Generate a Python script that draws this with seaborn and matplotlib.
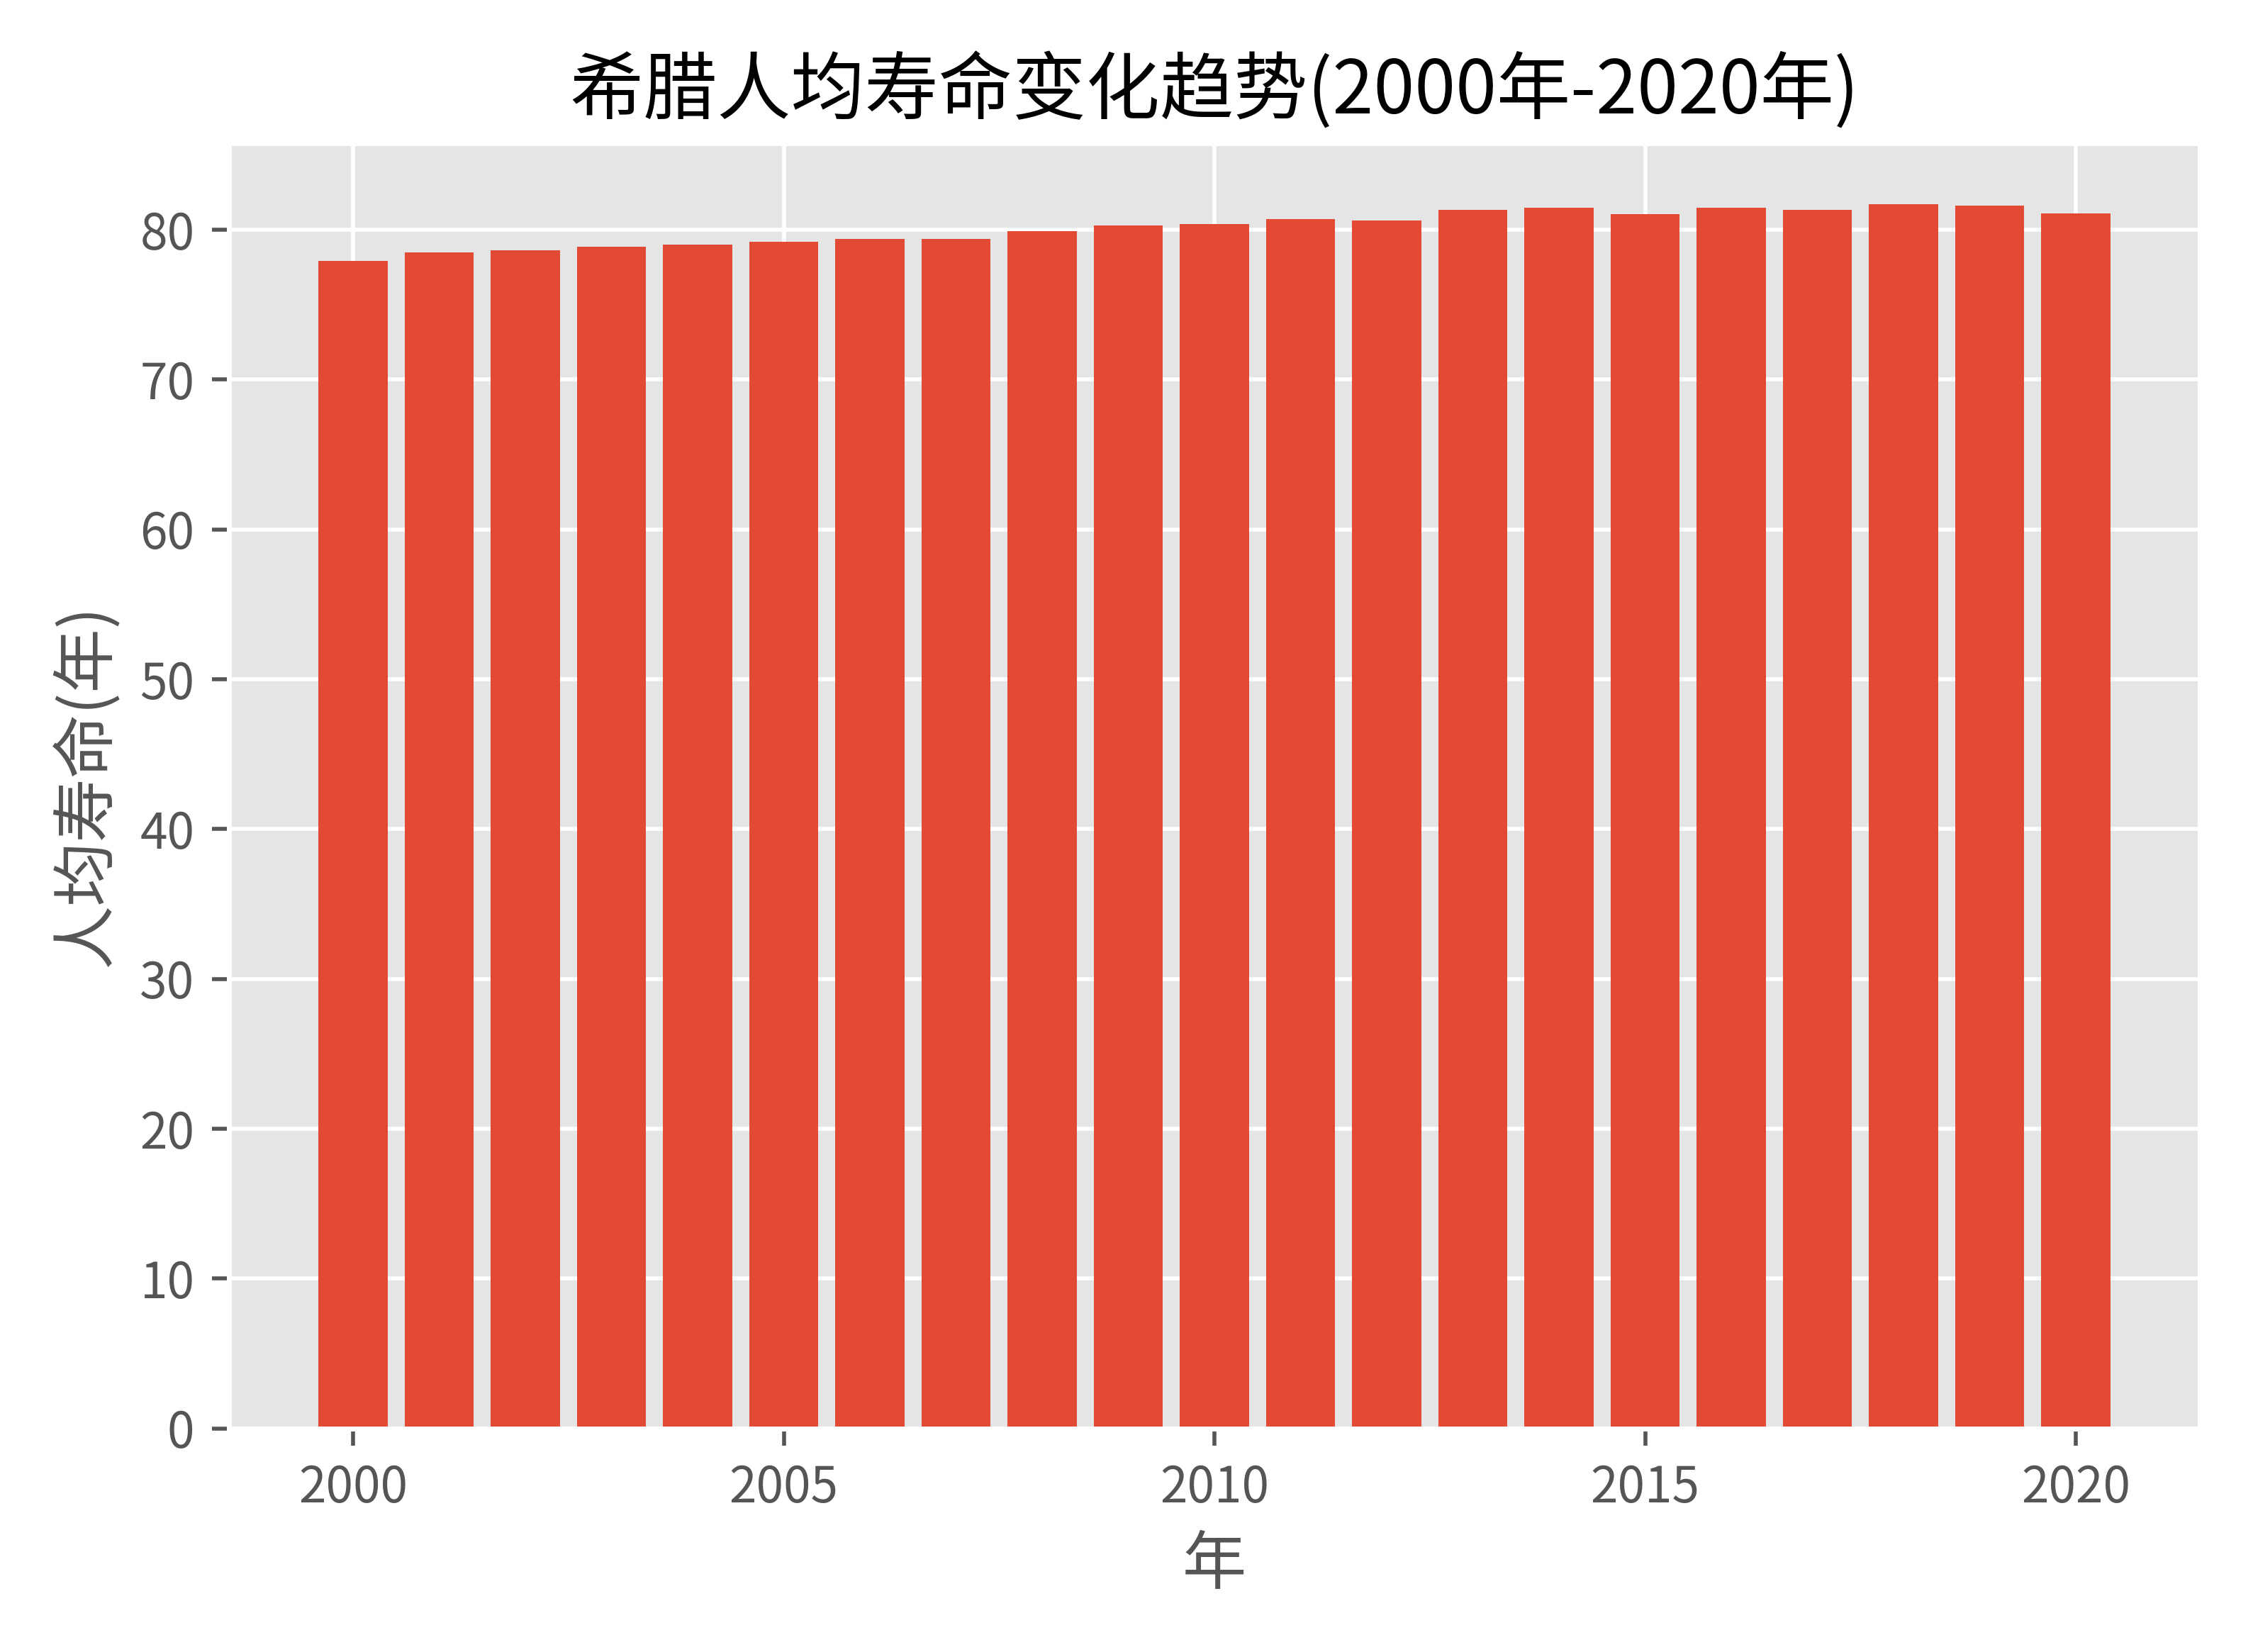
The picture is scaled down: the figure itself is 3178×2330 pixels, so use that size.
import numpy as np
import pandas as pd
import matplotlib
matplotlib.use('Agg')
import matplotlib.pyplot as plt
import seaborn as sns

years = list(range(2000, 2021))
life_expectancy = [77.9, 78.5, 78.65, 78.85, 79.0, 79.2, 79.4, 79.4, 79.9, 80.3, 80.4,
                   80.7, 80.6, 81.35, 81.45, 81.05, 81.45, 81.35, 81.7, 81.6, 81.1]

plt.style.use('ggplot')
plt.rcParams['font.family'] = ['Noto Sans CJK SC', 'DejaVu Sans']
plt.rcParams['axes.unicode_minus'] = False

df = pd.DataFrame({'年': years, '寿命': life_expectancy})

fig, ax = plt.subplots(figsize=(6.356, 4.66), dpi=500)
sns.barplot(data=df, x='年', y='寿命', native_scale=True, color='#E24A33',
            saturation=1, width=0.8, ax=ax)
ax.set_xticks([2000, 2005, 2010, 2015, 2020])
ax.set_title('希腊人均寿命变化趋势(2000年-2020年)', fontsize=15)
ax.set_xlabel('年', fontsize=13)
ax.set_ylabel('人均寿命(年)', fontsize=13)
plt.tight_layout()
plt.savefig('out.png', dpi=500)
